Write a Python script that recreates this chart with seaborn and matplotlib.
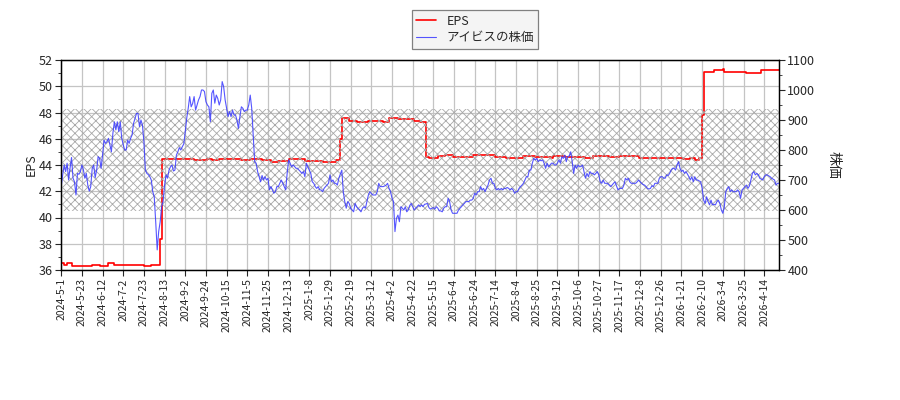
import numpy as np
import matplotlib
matplotlib.use("Agg")
import matplotlib.pyplot as plt
from matplotlib.ticker import MultipleLocator
import seaborn as sns

# =========================
# DATA
# =========================
# x axis is the trading-day index; every 14th day gets a date label
TICK_STEP = 14
TICK_LABELS = [
    "2024-5-1", "2024-5-23", "2024-6-12", "2024-7-2", "2024-7-23", "2024-8-13",
    "2024-9-2", "2024-9-24", "2024-10-15", "2024-11-5", "2024-11-25", "2024-12-13",
    "2025-1-8", "2025-1-29", "2025-2-19", "2025-3-12", "2025-4-2", "2025-4-22",
    "2025-5-15", "2025-6-4", "2025-6-24", "2025-7-14", "2025-8-4", "2025-8-25",
    "2025-9-12", "2025-10-6", "2025-10-27", "2025-11-17", "2025-12-8", "2025-12-26",
    "2026-1-21", "2026-2-10", "2026-3-4", "2026-3-25", "2026-4-14",
]

# daily share price (right axis)
PRICE = [
    678, 717, 750, 728, 756, 700, 740, 775, 706, 694,
    650, 722, 719, 728, 750, 735, 706, 722, 683, 663,
    678, 739, 750, 708, 733, 778, 772, 739, 783, 833,
    822, 828, 839, 817, 794, 856, 894, 867, 894, 861,
    894, 839, 817, 800, 800, 833, 822, 839, 850, 889,
    905, 922, 922, 878, 900, 883, 828, 733, 722, 718,
    711, 700, 661, 644, 560, 467, 528, 560, 611, 628,
    683, 717, 706, 733, 744, 750, 730, 733, 783, 794,
    808, 800, 811, 820, 861, 906, 939, 978, 944, 955,
    978, 933, 950, 967, 978, 1000, 1000, 995, 961, 950,
    944, 894, 989, 1000, 956, 983, 972, 950, 967, 1028,
    1011, 967, 939, 911, 928, 911, 933, 917, 917, 900,
    872, 911, 944, 939, 928, 933, 933, 950, 983, 939,
    850, 761, 756, 728, 711, 694, 715, 700, 711, 700,
    706, 667, 678, 667, 656, 661, 678, 678, 689, 700,
    690, 678, 667, 722, 767, 756, 744, 750, 745, 739,
    739, 733, 728, 722, 728, 711, 756, 744, 733, 722,
    694, 689, 678, 672, 678, 667, 667, 661, 672, 678,
    683, 689, 717, 694, 700, 689, 689, 683, 706, 720,
    733, 661, 628, 606, 628, 622, 606, 600, 594, 622,
    611, 605, 600, 594, 606, 611, 606, 628, 650, 661,
    655, 650, 650, 650, 661, 689, 678, 678, 678, 680,
    683, 689, 672, 661, 639, 628, 528, 572, 583, 561,
    611, 606, 600, 611, 594, 600, 615, 622, 611, 600,
    606, 611, 617, 611, 617, 611, 619, 620, 622, 608,
    603, 606, 608, 603, 611, 606, 597, 597, 594, 606,
    611, 611, 639, 628, 600, 589, 589, 589, 589, 600,
    606, 611, 617, 622, 628, 628, 628, 633, 633, 639,
    656, 650, 661, 661, 678, 667, 672, 661, 672, 683,
    700, 706, 689, 689, 672, 667, 672, 667, 672, 667,
    672, 672, 675, 672, 667, 672, 667, 656, 661, 661,
    672, 678, 683, 689, 700, 711, 711, 733, 733, 756,
    772, 767, 772, 761, 767, 764, 767, 756, 739, 756,
    744, 750, 756, 756, 750, 750, 756, 767, 756, 778,
    772, 783, 761, 778, 780, 794, 761, 722, 750, 739,
    750, 744, 745, 750, 728, 706, 722, 711, 728, 722,
    722, 717, 722, 728, 717, 694, 689, 700, 689, 689,
    689, 683, 678, 683, 689, 694, 680, 667, 672, 672,
    672, 683, 706, 700, 706, 694, 689, 689, 689, 689,
    694, 700, 694, 689, 685, 683, 678, 672, 670, 672,
    681, 678, 689, 689, 689, 706, 711, 711, 706, 706,
    717, 715, 722, 733, 739, 739, 733, 750, 761, 739,
    728, 733, 722, 728, 720, 711, 700, 711, 694, 711,
    700, 700, 697, 694, 672, 633, 622, 644, 628, 617,
    633, 617, 619, 617, 628, 633, 622, 600, 589, 611,
    661, 672, 678, 661, 667, 661, 661, 661, 667, 661,
    639, 667, 672, 678, 683, 672, 680, 700, 722, 728,
    717, 722, 717, 706, 703, 700, 711, 717, 717, 714,
    711, 706, 703, 700, 683, 689, 689,
]

# EPS (left axis): trading-day index where a new value starts, and the value
EPS_START = [
    0, 2, 4, 7, 21, 26, 32, 36, 56, 61, 67, 68, 84, 90, 99, 102, 107, 113,
    122, 128, 136, 142, 147, 154, 165, 177, 186, 189, 190, 195, 200, 208, 218,
    222, 228, 239, 243, 247, 249, 255, 260, 265, 279, 294, 301, 313, 321, 332,
    333, 341, 355, 360, 371, 378, 391, 398, 421, 426, 429, 432, 434, 435, 442,
    448, 449, 464, 474, 477, 483,
]
EPS_VALUE = [
    36.50, 36.40, 36.50, 36.33, 36.38, 36.33, 36.50, 36.38, 36.33, 36.38,
    38.40, 44.45, 44.48, 44.36, 44.46, 44.36, 44.45, 44.48, 44.38, 44.48,
    44.35, 44.26, 44.32, 44.45, 44.30, 44.25, 44.38, 46.00, 47.55, 47.38,
    47.25, 47.38, 47.25, 47.55, 47.48, 47.35, 47.25, 44.60, 44.50, 44.70,
    44.80, 44.60, 44.80, 44.58, 44.52, 44.70, 44.63, 44.52, 44.70, 44.63,
    44.50, 44.70, 44.60, 44.70, 44.52, 44.56, 44.48, 44.52, 44.38, 44.56,
    47.80, 51.11, 51.24, 51.30, 51.11, 50.98, 51.24, 51.20, 51.27,
]

# band drawn with a cross hatch (right-axis units)
BAND_LOW = 598
BAND_HIGH = 937

# =========================
# GLOBAL SETTINGS
# =========================
sns.set_style("ticks")
plt.rcParams["font.family"] = ["Noto Sans CJK JP", "DejaVu Sans"]
plt.rcParams["hatch.color"] = "#a8a8a8"
plt.rcParams["hatch.linewidth"] = 0.6


def main():
    last = len(PRICE) - 1
    days = np.arange(len(PRICE))

    fig, ax1 = plt.subplots(figsize=(9, 4), dpi=100)
    fig.subplots_adjust(left=0.068, right=0.8655, top=0.85, bottom=0.325)
    ax2 = ax1.twinx()

    # EPS as a step line
    eps_x = EPS_START + [last]
    eps_y = EPS_VALUE + [EPS_VALUE[-1]]
    sns.lineplot(x=eps_x, y=eps_y, ax=ax1, color="red", linewidth=1.2,
                 drawstyle="steps-post", label="EPS", legend=False)

    # share price
    ax2.axhspan(BAND_LOW, BAND_HIGH, facecolor="none", edgecolor="#a8a8a8",
                hatch="xxxx", linewidth=0, zorder=0)
    sns.lineplot(x=days, y=PRICE, ax=ax2, color="#3838ff", alpha=0.85,
                 linewidth=0.8, label="アイビスの株価", legend=False)

    # axes ranges and ticks
    ax1.set_xlim(0, last)
    ax1.set_ylim(36, 52)
    ax2.set_ylim(400, 1100)
    ax1.yaxis.set_major_locator(MultipleLocator(2))
    ax1.yaxis.set_minor_locator(MultipleLocator(1))
    ax2.yaxis.set_major_locator(MultipleLocator(100))
    ax2.yaxis.set_minor_locator(MultipleLocator(50))

    tick_pos = np.arange(len(TICK_LABELS)) * TICK_STEP
    ax1.set_xticks(tick_pos)
    ax1.set_xticklabels(TICK_LABELS, rotation=90, fontsize=7.5)

    ax1.tick_params(axis="y", labelsize=9, length=4, pad=2)
    ax1.tick_params(axis="y", which="minor", length=2.5)
    ax2.tick_params(axis="y", labelsize=9, length=4, pad=2)
    ax2.tick_params(axis="y", which="minor", length=2.5)
    ax1.tick_params(axis="x", length=4, pad=2)

    ax1.set_xlabel("")
    ax1.set_ylabel("EPS", fontsize=9, labelpad=1)
    ax2.set_ylabel("株価", fontsize=10, rotation=270, labelpad=18)

    ax1.grid(True, color="#c4c4c4", linewidth=0.9)
    ax1.set_axisbelow(True)

    for ax in (ax1, ax2):
        for spine in ax.spines.values():
            spine.set_visible(True)
            spine.set_color("black")
            spine.set_linewidth(0.9)

    # legend above the plot
    h1, l1 = ax1.get_legend_handles_labels()
    h2, l2 = ax2.get_legend_handles_labels()
    leg = fig.legend(h1 + h2, l1 + l2, loc="upper center",
                     bbox_to_anchor=(0.528, 0.99), fontsize=9,
                     fancybox=False, edgecolor="#808080", facecolor="#f4f4f4",
                     framealpha=1, handlelength=1.6, labelspacing=0.3,
                     borderpad=0.35)
    leg.get_frame().set_linewidth(0.9)

    fig.savefig("out.png", dpi=100)
    plt.close(fig)


if __name__ == "__main__":
    main()
